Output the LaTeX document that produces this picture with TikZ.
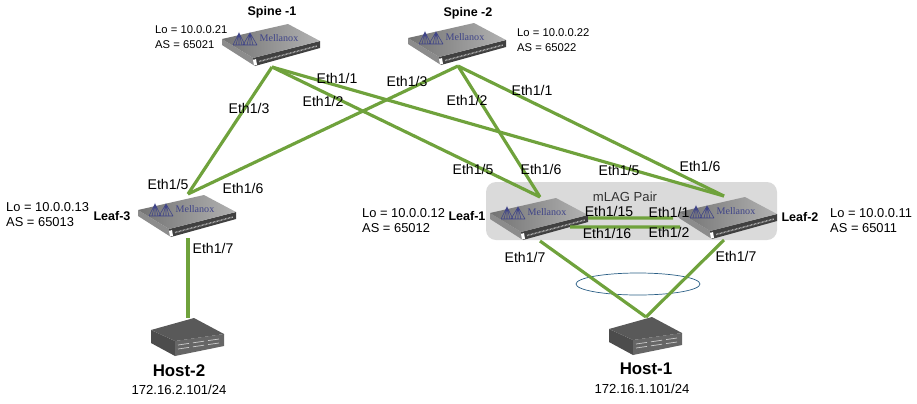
\documentclass[tikz,border=0pt]{standalone}
\usepackage{fontspec}
\setmainfont{Liberation Sans}
\newfontfamily\logofont{Liberation Serif}
\usetikzlibrary{positioning, shapes.geometric, calc}

\definecolor{linkgreen}{HTML}{6FA23C}
\definecolor{logonavy}{HTML}{3F4488}
\definecolor{pairgray}{HTML}{DADADA}
\definecolor{lagblue}{HTML}{2B5F86}

\tikzset{
    linkline/.style={draw=linkgreen, line width=2.7pt},
    portlabel/.style={inner sep=0pt, font=\fontsize{12}{14}\selectfont},
    ipaddr/.style={inner sep=0pt, font=\fontsize{11.2}{13}\selectfont},
    spineaddr/.style={inner sep=0pt, anchor=west, align=left, font=\fontsize{9.6}{12.4}\selectfont},
    leafaddr/.style={inner sep=0pt, anchor=west, align=left, font=\fontsize{11}{12.8}\selectfont},
    namelabel/.style={inner sep=0pt, font=\fontsize{10.7}{12}\selectfont\bfseries},
    hostlabel/.style={inner sep=0pt, font=\fontsize{14.4}{16}\selectfont\bfseries},
    switchpic/.pic={
        % front faces, then the top plate
        \fill[black!45] (-49,-6) -- (-18,13) -- (-16,21) -- (-49,0) -- cycle;
        \fill[black!75] (-18,13) -- (49,-4) -- (49,3) -- (-16,21) -- cycle;
        \draw[gray!60, line width=1.3pt, dash pattern=on 0.6pt off 0.6pt] (-12,16.5) -- (46,1);
        \fill[white] (-18,15) -- (-15,14) -- (-14,20) -- (-17,20.5) -- cycle;
        \shade[left color=black!55, right color=black!30] (-49,-6) -- (17,-21) -- (49,-4) -- (-18,13) -- cycle;
        % bridge logo
        \draw[logonavy, line width=0.5pt]
            (-38,0) -- (-32,-12) -- (-26,0) (-28,0) -- (-21,-12) -- (-14,0)
            (-32,-12) -- (-32,0) (-35,0) -- (-32,-12) -- (-29,0)
            (-21,-12) -- (-21,0) (-24,0) -- (-21,-12) -- (-18,0) (-38,0) -- (-14,0);
        \node[inner sep=0pt, text=logonavy, font=\logofont\fontsize{8.6}{10}\selectfont] (-logo) at (8,-7) {Mellanox};
        \coordinate (-up) at (1,-22);
        \coordinate (-down) at (1,22);
    },
    hostpic/.pic={
        \fill[black!70] (-37,-6) -- (-13,5) -- (-13,20) -- (-37,7) -- cycle;
        \fill[black!60] (-13,5) -- (36,-2) -- (36,10) -- (-13,20) -- cycle;
        \fill[black!65] (-37,-6) -- (6,-18) -- (36,-2) -- (-13,5) -- cycle;
        \foreach \k in {0,1,2} {
            \draw[gray!40, line width=0.6pt] ($(-10,9)+(\k*15,-2.2*\k)$) -- ++(11,-1.6) ($(-10,13)+(\k*15,-2.2*\k)$) -- ++(11,-1.6);
        }
        \coordinate (-up) at (0,-18);
    }
}

\begin{document}
\begin{tikzpicture}[x=0.3mm, y=-0.3mm]
    \useasboundingbox (0,0) rectangle (917,403);

    % mLAG background
    \node[draw=none, fill=pairgray, rounded corners=3mm, minimum width=87.3mm, minimum height=17.4mm, inner sep=0pt] (pair) at (631.5,211) {};

    % switches and hosts
    \pic (spine1) at (271,45) {switchpic};
    \pic (spine2) at (457,44) {switchpic};
    \pic (leaf3) at (187,216) {switchpic};
    \pic (leaf1) at (539,219) {switchpic};
    \pic (leaf2) at (728,218) {switchpic};
    \pic (host2) at (188,336) {hostpic};
    \pic (host1) at (646,335) {hostpic};

    % LAG ring
    \node[ellipse, draw=lagblue, line width=0.6pt, minimum width=37.2mm, minimum height=6.6mm, inner sep=0pt] (lag) at (638,284) {};

    % links
    \draw[linkline] (spine1-down) -- (leaf3-up);
    \draw[linkline] (spine1-down) -- (leaf1-up);
    \draw[linkline] (spine1-down) -- ([xshift=-1.5mm]leaf2-up);
    \draw[linkline] (spine2-down) -- (leaf3-up);
    \draw[linkline] (spine2-down) -- (leaf1-up);
    \draw[linkline] (spine2-down) -- ([xshift=-1.5mm]leaf2-up);
    \draw[linkline] (leaf3-down) -- (host2-up);
    \draw[linkline] (leaf1-down) -- (host1-up);
    \draw[linkline] ([xshift=-1.5mm]leaf2-down) -- (host1-up);
    \draw[linkline] ([shift={(14.4mm,6.9mm)}]leaf1-down) -- ([shift={(-16.8mm,6.6mm)}]leaf2-down);
    \draw[linkline] ([shift={(9mm,4.2mm)}]leaf1-down) -- ([shift={(-14.7mm,3.9mm)}]leaf2-down);

    % node names
    \node[namelabel] (spine1name) at (272,12) {Spine -1};
    \node[namelabel] (spine2name) at (468,13) {Spine -2};
    \node[namelabel] (leaf3name) at (112,216) {Leaf-3};
    \node[namelabel] (leaf1name) at (467,216) {Leaf-1};
    \node[namelabel] (leaf2name) at (800,217) {Leaf-2};

    % loopback and AS
    \node[spineaddr] (spine1addr) at (155,37) {Lo = 10.0.0.21\\AS = 65021};
    \node[spineaddr] (spine2addr) at (517,40) {Lo = 10.0.0.22\\AS = 65022};
    \node[leafaddr] (leaf3addr) at (6,215) {Lo = 10.0.0.13\\AS = 65013};
    \node[leafaddr] (leaf1addr) at (362,221) {Lo = 10.0.0.12\\AS = 65012};
    \node[leafaddr] (leaf2addr) at (830,221) {Lo = 10.0.0.11\\AS = 65011};

    % port labels
    \node[portlabel] (s1e3) at (249,108) {Eth1/3};
    \node[portlabel] (s1e1) at (337,78) {Eth1/1};
    \node[portlabel] (s1e2) at (323,101) {Eth1/2};
    \node[portlabel] (s2e3) at (407,81) {Eth1/3};
    \node[portlabel] (s2e2) at (467,100) {Eth1/2};
    \node[portlabel] (s2e1) at (532,90) {Eth1/1};
    \node[portlabel] (l3e5) at (168,184) {Eth1/5};
    \node[portlabel] (l3e6) at (243,188) {Eth1/6};
    \node[portlabel] (l3e7) at (213,248) {Eth1/7};
    \node[portlabel] (l1e5) at (473,169) {Eth1/5};
    \node[portlabel] (l1e6) at (541,169) {Eth1/6};
    \node[portlabel] (l1e7) at (525,257) {Eth1/7};
    \node[portlabel] (l2e5) at (619,170) {Eth1/5};
    \node[portlabel] (l2e6) at (700,166) {Eth1/6};
    \node[portlabel] (l2e7) at (736,256) {Eth1/7};
    \node[portlabel] (l1e15) at (609,211) {Eth1/15};
    \node[portlabel] (l1e16) at (607,233) {Eth1/16};
    \node[portlabel] (l2e1) at (669,212) {Eth1/1};
    \node[portlabel] (l2e2) at (669,232) {Eth1/2};
    \node[ipaddr, text=black!80] (pairname) at (625,197) {mLAG Pair};

    % hosts
    \node[hostlabel] (host2name) at (179,371) {Host-2};
    \node[ipaddr] (host2addr) at (179,390) {172.16.2.101/24};
    \node[hostlabel] (host1name) at (646,369) {Host-1};
    \node[ipaddr] (host1addr) at (642,389) {172.16.1.101/24};
\end{tikzpicture}
\end{document}
